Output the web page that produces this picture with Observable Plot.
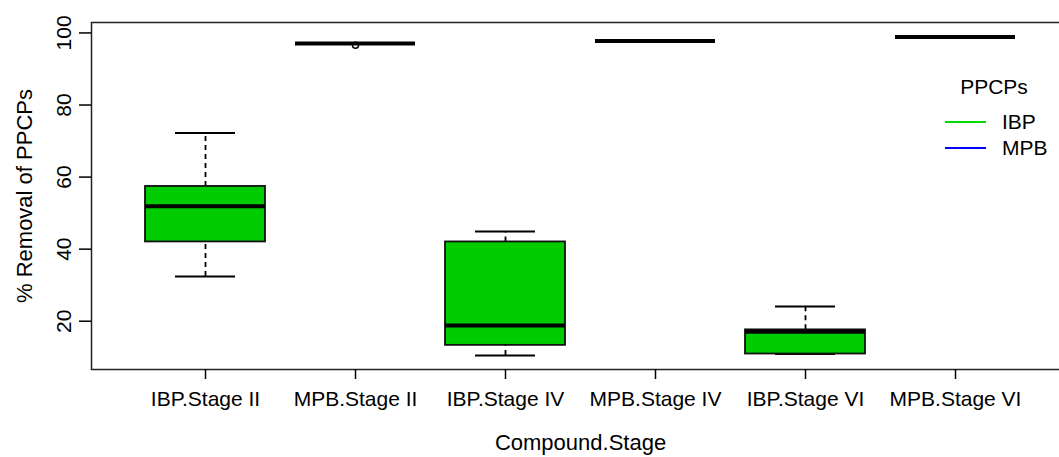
<!DOCTYPE html>
<html><head><meta charset="utf-8">
<script src="https://cdn.jsdelivr.net/npm/d3@7"></script>
<script src="https://cdn.jsdelivr.net/npm/@observablehq/plot@0.6"></script>
<style>
html,body{margin:0;padding:0;overflow:hidden;background:#fff;font-family:"Liberation Sans",Arial,sans-serif}
#wrap{position:relative;width:1059px;height:457px;overflow:hidden}
.lg{position:absolute;font-size:21px;line-height:24px;color:#000;white-space:nowrap}
.sw{position:absolute;height:2px;width:41px}
</style></head><body><div id="wrap"></div>
<script>
const categories = ["IBP.Stage II","MPB.Stage II","IBP.Stage IV","MPB.Stage IV","IBP.Stage VI","MPB.Stage VI"];
const compounds = ["IBP","MPB","IBP","MPB","IBP","MPB"];
const lowerWhisker = [32.4, 97.05, 10.5, 97.8, 10.9, 98.9];
const lowerHinge   = [42.0, 97.05, 13.3, 97.8, 10.9, 98.9];
const medians      = [51.9, 97.05, 18.8, 97.8, 17.1, 98.9];
const upperHinge   = [57.4, 97.05, 42.0, 97.8, 17.6, 98.9];
const upperWhisker = [72.2, 97.05, 44.9, 97.8, 24.1, 98.9];
const outlierCategory = ["MPB.Stage II"];
const outlierValues = [96.6];
const yTicks = [20, 40, 60, 80, 100];
const legendTitle = "PPCPs";
const legendKeys = ["IBP", "MPB"];
const legendColors = ["#00dd00", "#0000ff"];
const boxFill = "#00cd00";

const rows = categories.map((c, i) => ({
  cat: c, comp: compounds[i], lo: lowerWhisker[i], q1: lowerHinge[i],
  med: medians[i], q3: upperHinge[i], hi: upperWhisker[i]
}));
const outliers = outlierCategory.map((c, i) => ({cat: c, v: outlierValues[i]}));

const chart = Plot.plot({
  width: 1059, height: 457,
  marginLeft: 91, marginRight: -10, marginTop: 22, marginBottom: 88,
  style: {fontFamily: "'Liberation Sans', Arial, sans-serif", fontSize: "21px", color: "#000", background: "#fff", overflow: "hidden"},
  x: {type: "band", domain: categories, paddingInner: 0.2, paddingOuter: 0.341, label: null},
  y: {domain: [6.6, 102.9], label: null},
  marks: [
    Plot.ruleX(rows, {x: "cat", y1: "q3", y2: "hi", stroke: "#000", strokeWidth: 1.8, strokeDasharray: "5,4"}),
    Plot.ruleX(rows, {x: "cat", y1: "lo", y2: "q1", stroke: "#000", strokeWidth: 1.8, strokeDasharray: "5,4"}),
    Plot.tickY(rows, {x: "cat", y: "hi", inset: 30, stroke: "#000", strokeWidth: 2}),
    Plot.tickY(rows, {x: "cat", y: "lo", inset: 30, stroke: "#000", strokeWidth: 2}),
    Plot.barY(rows, {x: "cat", y1: "q1", y2: "q3", fill: boxFill, stroke: "#111", strokeWidth: 1.8}),
    Plot.tickY(rows, {x: "cat", y: "med", stroke: "#000", strokeWidth: 4}),
    Plot.dot(outliers, {x: "cat", y: "v", r: 3, stroke: "#000", strokeWidth: 1.5, fill: "none"}),
    Plot.frame({stroke: "#222", strokeWidth: 1.5}),
    Plot.axisX({tickSize: 10, tickPadding: 12, fontSize: 21, label: null, strokeWidth: 1.5}),
    Plot.axisY({ticks: yTicks, tickSize: 12, tickFormat: () => "", label: null, strokeWidth: 1.5}),
    Plot.text(yTicks, {y: d => d, text: d => String(d), frameAnchor: "left", dx: -27, rotate: -90, textAnchor: "middle", lineAnchor: "middle", fontSize: 21}),
    Plot.text(["% Removal of PPCPs"], {frameAnchor: "left", dx: -67, rotate: -90, fontSize: 22, textAnchor: "middle", lineAnchor: "middle"}),
    Plot.text(["Compound.Stage"], {frameAnchor: "bottom", dy: 73, fontSize: 22, textAnchor: "middle", lineAnchor: "middle"})
  ]
});
const wrap = document.getElementById("wrap");
wrap.appendChild(chart);

// legend overlay
const t = document.createElement("div");
t.className = "lg"; t.textContent = legendTitle;
t.style.left = "994px"; t.style.top = "75px"; t.style.transform = "translateX(-50%)";
wrap.appendChild(t);
legendKeys.forEach((k, i) => {
  const yc = 122 + i * 26;
  const s = document.createElement("div");
  s.className = "sw"; s.style.left = "945px"; s.style.top = (yc - 1) + "px"; s.style.background = legendColors[i];
  wrap.appendChild(s);
  const l = document.createElement("div");
  l.className = "lg"; l.textContent = k; l.style.left = "1002px"; l.style.top = (yc - 12) + "px";
  wrap.appendChild(l);
});
</script>
</body></html>
